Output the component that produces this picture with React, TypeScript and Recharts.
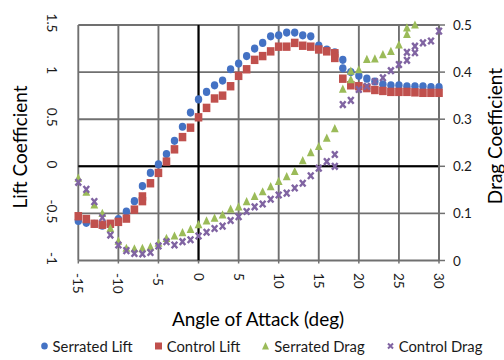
import React from 'react';
import { ScatterChart, Scatter, XAxis, YAxis, CartesianGrid, ReferenceLine, Legend, Label } from 'recharts';

// Angle of attack sweep (deg)
const angles = [
  -15, -14, -13, -12, -11, -10, -9, -8, -7, -6, -5, -4, -3, -2, -1, 0,
  1, 2, 3, 4, 5, 6, 7, 8, 9, 10, 11, 12, 13, 14, 15, 16, 17, 18, 19, 20,
  21, 22, 23, 24, 25, 26, 27, 28, 29, 30,
];

const serratedLift = [
  -0.58, -0.6, -0.61, -0.63, -0.62, -0.56, -0.48, -0.37, -0.21, -0.07, 0.02, 0.13, 0.27, 0.42, 0.57, 0.71,
  0.79, 0.86, 0.91, 1.03, 1.09, 1.17, 1.25, 1.31, 1.38, 1.39, 1.42, 1.42, 1.39, 1.38, 1.28, 1.24, 1.21, 1.13, 1.0, 0.96,
  0.93, 0.9, 0.87, 0.86, 0.86, 0.85, 0.85, 0.85, 0.84, 0.84,
];

const controlLift = [
  -0.53, -0.56, -0.61, -0.62, -0.61, -0.59, -0.555, -0.46, -0.32, -0.18, -0.07, 0.05, 0.18, 0.31, 0.41, 0.52,
  0.62, 0.72, 0.75, 0.85, 0.96, 1.03, 1.13, 1.17, 1.22, 1.27, 1.27, 1.31, 1.28, 1.27, 1.24, 1.22, 1.2, 0.93, 0.86, 0.85,
  0.83, 0.81, 0.8, 0.79, 0.79, 0.79, 0.785, 0.78, 0.78, 0.78,
];

// Values past 27 deg run off the top of the drag axis
const serratedDrag = [
  0.175, 0.145, 0.118, 0.1, 0.068, 0.041, 0.026, 0.025, 0.026, 0.029, 0.037, 0.047, 0.052, 0.059, 0.066, 0.076,
  0.084, 0.09, 0.097, 0.109, 0.114, 0.125, 0.136, 0.146, 0.157, 0.168, 0.178, 0.189, 0.212, 0.229, 0.242, 0.26, 0.28, 0.364, 0.384, 0.405,
  0.427, 0.428, 0.437, 0.444, 0.458, 0.48, 0.5, null, null, null,
];

const controlDrag = [
  0.166, 0.151, 0.125, 0.091, 0.054, 0.033, 0.021, 0.015, 0.014, 0.017, 0.031, 0.04, 0.033, 0.04, 0.044, 0.052,
  0.06, 0.068, 0.073, 0.085, 0.093, 0.104, 0.114, 0.12, 0.13, 0.139, 0.143, 0.154, 0.164, 0.18, 0.196, 0.21, 0.225, 0.331, 0.34, 0.363,
  0.37, 0.38, 0.388, 0.403, 0.416, 0.425, 0.441, 0.462, 0.466, 0.487,
];

// Repeated readings taken around stall
const serratedLiftRepeats = [{ angle: 18, value: 1.04 }];
const controlLiftRepeats = [{ angle: -7, value: -0.37 }, { angle: 17, value: 1.15 }];
const serratedDragRepeats = [{ angle: 19, value: 0.402 }, { angle: 26, value: 0.494 }];
const controlDragRepeats = [{ angle: 17, value: 0.2 }, { angle: 26, value: 0.442 }, { angle: 27, value: 0.455 }];

const angleTicks = [-15, -10, -5, 0, 5, 10, 15, 20, 25, 30];
const liftTicks = [-1, -0.5, 0, 0.5, 1, 1.5];
const dragTicks = [0, 0.1, 0.2, 0.3, 0.4, 0.5];

const seriesNames = ['Serrated Lift', 'Control Lift', 'Serrated Drag', 'Control Drag'];
const seriesColors = ['#4472C4', '#C0504D', '#9BBB59', '#8064A2'];

type Pt = { x: number; y: number };

function buildPoints(values: (number | null)[], repeats: { angle: number; value: number }[]): Pt[] {
  const pts: Pt[] = [];
  angles.forEach((a, i) => {
    const v = values[i];
    if (v !== null && v !== undefined) pts.push({ x: a, y: v });
  });
  repeats.forEach((r) => pts.push({ x: r.angle, y: r.value }));
  return pts;
}

const FONT = 'Lato, "Open Sans", sans-serif';
const GRID = '#707070';
const TEXT = '#1a1a1a';

const CircleMark = (p: any) => <ellipse cx={p.cx} cy={p.cy} rx={3.7} ry={4.1} fill={seriesColors[0]} />;
const SquareMark = (p: any) => <rect x={p.cx - 3.8} y={p.cy - 4.2} width={7.6} height={8.4} fill={seriesColors[1]} />;
const TriangleMark = (p: any) => (
  <path d={`M${p.cx},${p.cy - 4.6} L${p.cx + 3.9},${p.cy + 3.6} L${p.cx - 3.9},${p.cy + 3.6} Z`} fill={seriesColors[2]} />
);
const CrossMark = (p: any) => (
  <path
    d={`M${p.cx - 2.8},${p.cy - 3.3} L${p.cx + 2.8},${p.cy + 3.3} M${p.cx + 2.8},${p.cy - 3.3} L${p.cx - 2.8},${p.cy + 3.3}`}
    stroke={seriesColors[3]}
    strokeWidth={2.4}
  />
);

const AngleTick = (p: any) => {
  const { x, payload } = p;
  return (
    <text
      x={x}
      y={273}
      transform={`rotate(90 ${x} 273)`}
      textAnchor="start"
      dominantBaseline="central"
      fontFamily={FONT}
      fontSize={13.5}
      fill={TEXT}
    >
      {payload.value}
    </text>
  );
};

const LiftTick = (p: any) => {
  const { y, payload } = p;
  const cy = y - 2;
  return (
    <text
      x={52}
      y={cy}
      transform={`rotate(90 52 ${cy})`}
      textAnchor="middle"
      dominantBaseline="central"
      fontFamily={FONT}
      fontSize={13.5}
      fill={TEXT}
    >
      {payload.value}
    </text>
  );
};

const DragTick = (p: any) => {
  const { y, payload } = p;
  return (
    <text x={453} y={y} textAnchor="start" dominantBaseline="central" fontFamily={FONT} fontSize={13.5} fill={TEXT}>
      {payload.value}
    </text>
  );
};

const LegendIcon = ({ index }: { index: number }) => {
  const c = seriesColors[index];
  return (
    <svg width={9} height={10} style={{ display: 'block' }}>
      {index === 0 && <ellipse cx={4.5} cy={5} rx={3.3} ry={3.6} fill={c} />}
      {index === 1 && <rect x={1} y={1.5} width={7} height={7} fill={c} />}
      {index === 2 && <path d="M4.5,1 L8,8.5 L1,8.5 Z" fill={c} />}
      {index === 3 && <path d="M2,2.5 L7,7.5 M7,2.5 L2,7.5" stroke={c} strokeWidth={2} />}
    </svg>
  );
};

const LegendContent = () => (
  <div
    style={{
      display: 'flex',
      justifyContent: 'center',
      alignItems: 'center',
      height: 16,
      paddingLeft: 18,
      fontFamily: FONT,
      fontSize: 14.8,
      lineHeight: '16px',
      color: TEXT,
      whiteSpace: 'nowrap',
    }}
  >
    {seriesNames.map((name, i) => (
      <div key={name} style={{ display: 'flex', alignItems: 'center', marginRight: i < 3 ? 21 : 0 }}>
        <LegendIcon index={i} />
        <span style={{ marginLeft: 4 }}>{name}</span>
      </div>
    ))}
  </div>
);

export default function App() {
  const sLift = buildPoints(serratedLift, serratedLiftRepeats);
  const cLift = buildPoints(controlLift, controlLiftRepeats);
  const sDrag = buildPoints(serratedDrag, serratedDragRepeats);
  const cDrag = buildPoints(controlDrag, controlDragRepeats);

  return (
    <div style={{ position: 'absolute', left: 0, top: 0, width: 504, height: 360, overflow: 'hidden', background: '#fff' }}>
      <ScatterChart width={504} height={360} margin={{ top: 25, right: 0, bottom: 6, left: 0 }}>
        <CartesianGrid yAxisId="lift" stroke={GRID} strokeWidth={1.9} fill="#ffffff" />
        <XAxis
          dataKey="x"
          type="number"
          domain={[-15, 30]}
          ticks={angleTicks}
          interval={0}
          height={77.5}
          axisLine={false}
          tickLine={{ stroke: GRID, strokeWidth: 1.5 }}
          tickSize={3}
          tick={<AngleTick />}
        >
          <Label
            content={() => (
              <text x={258} y={318} textAnchor="middle" dominantBaseline="central" fontFamily={FONT} fontSize={19} fill="#000">
                Angle of Attack (deg)
              </text>
            )}
          />
        </XAxis>
        <YAxis
          yAxisId="lift"
          dataKey="y"
          type="number"
          domain={[-1, 1.5]}
          ticks={liftTicks}
          interval={0}
          width={78.3}
          axisLine={false}
          tickLine={false}
          tick={<LiftTick />}
        >
          <Label
            content={() => (
              <text
                x={19}
                y={147}
                transform="rotate(-90 19 147)"
                textAnchor="middle"
                dominantBaseline="central"
                fontFamily={FONT}
                fontSize={19}
                fill="#000"
              >
                Lift Coefficient
              </text>
            )}
          />
        </YAxis>
        <YAxis
          yAxisId="drag"
          orientation="right"
          dataKey="y"
          type="number"
          domain={[0, 0.5]}
          ticks={dragTicks}
          interval={0}
          width={65}
          axisLine={{ stroke: GRID, strokeWidth: 1.9 }}
          tickLine={{ stroke: GRID, strokeWidth: 1.5 }}
          tickSize={6}
          tick={<DragTick />}
        >
          <Label
            content={() => (
              <text
                x={494}
                y={136}
                transform="rotate(-90 494 136)"
                textAnchor="middle"
                dominantBaseline="central"
                fontFamily={FONT}
                fontSize={19}
                fill="#000"
              >
                Drag Coefficient
              </text>
            )}
          />
        </YAxis>
        <ReferenceLine x={0} yAxisId="lift" stroke="#000" strokeWidth={2} />
        <ReferenceLine y={0} yAxisId="lift" stroke="#000" strokeWidth={2} />
        <Scatter name={seriesNames[0]} data={sLift} yAxisId="lift" shape={CircleMark} isAnimationActive={false} />
        <Scatter name={seriesNames[1]} data={cLift} yAxisId="lift" shape={SquareMark} isAnimationActive={false} />
        <Scatter name={seriesNames[2]} data={sDrag} yAxisId="drag" shape={TriangleMark} isAnimationActive={false} />
        <Scatter name={seriesNames[3]} data={cDrag} yAxisId="drag" shape={CrossMark} isAnimationActive={false} />
        <Legend verticalAlign="bottom" height={16} content={<LegendContent />} />
      </ScatterChart>
    </div>
  );
}
